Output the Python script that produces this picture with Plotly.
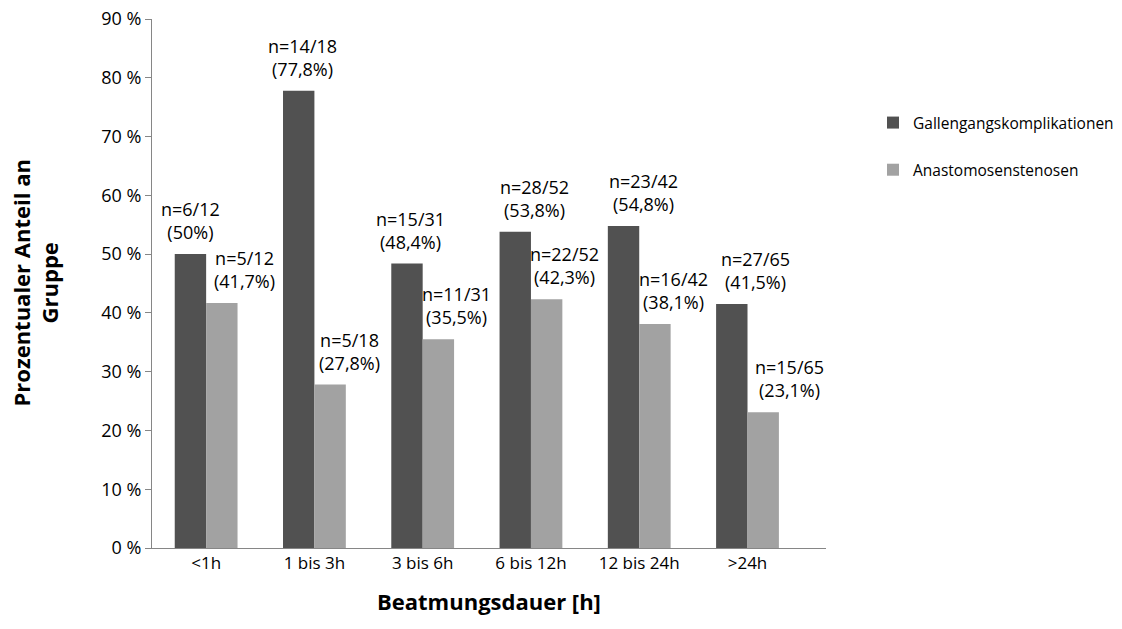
import plotly.graph_objects as go

categories = ["<1h", "1 bis 3h", "3 bis 6h", "6 bis 12h", "12 bis 24h", ">24h"]
galle_vals = [50.0, 77.8, 48.4, 53.8, 54.8, 41.5]
anast_vals = [41.7, 27.8, 35.5, 42.3, 38.1, 23.1]
galle_labels = ["n=6/12<br>(50%)", "n=14/18<br>(77,8%)", "n=15/31<br>(48,4%)",
                "n=28/52<br>(53,8%)", "n=23/42<br>(54,8%)", "n=27/65<br>(41,5%)"]
anast_labels = ["n=5/12<br>(41,7%)", "n=5/18<br>(27,8%)", "n=11/31<br>(35,5%)",
                "n=22/52<br>(42,3%)", "n=16/42<br>(38,1%)", "n=15/65<br>(23,1%)"]
series_names = ["Gallengangskomplikationen", "Anastomosenstenosen"]

# label pixel offsets (style only)
galle_dx = [-16, -12, -12, 4, 4, 8]
anast_dx = [38, 35, 34, 34, 34, 42]

FONT = "Open Sans"
DARK = "#515151"
LIGHT = "#a2a2a2"

fig = go.Figure()
fig.add_trace(go.Bar(x=categories, y=galle_vals, name=series_names[0],
                     marker=dict(color=DARK, line=dict(width=0)), legendgroup="a"))
fig.add_trace(go.Bar(x=categories, y=anast_vals, name=series_names[1],
                     marker=dict(color=LIGHT, line=dict(width=0)), legendgroup="b"))

for c, v, t, dx in zip(categories, galle_vals, galle_labels, galle_dx):
    fig.add_annotation(x=c, y=v, text=t, showarrow=False, xshift=dx, yshift=8,
                       yanchor="bottom", font=dict(size=18, color="#000", family=FONT))
for c, v, t, dx in zip(categories, anast_vals, anast_labels, anast_dx):
    fig.add_annotation(x=c, y=v, text=t, showarrow=False, xshift=dx, yshift=8,
                       yanchor="bottom", font=dict(size=18, color="#000", family=FONT))

# axis titles
fig.add_annotation(xref="paper", yref="paper", x=(35 - 152) / 674, y=0.5,
                   text="<b>Prozentualer Anteil an<br>Gruppe</b>", textangle=-90,
                   showarrow=False, xanchor="center", yanchor="middle",
                   font=dict(size=22, color="#000", family=FONT))
fig.add_annotation(xref="paper", yref="paper", x=0.5, y=(548 - 601) / 529,
                   text="<b>Beatmungsdauer [h]</b>",
                   showarrow=False, xanchor="center", yanchor="middle",
                   font=dict(size=22, color="#000", family=FONT))

fig.update_layout(
    width=1122, height=629,
    margin=dict(l=152, r=296, t=19, b=81, autoexpand=False),
    paper_bgcolor="white", plot_bgcolor="white",
    barmode="group", bargap=0.42, bargroupgap=0,
    font=dict(family=FONT, color="#000"),
    showlegend=True,
    legend=dict(x=(873 - 152) / 674, y=(548 - 106) / 529, xanchor="left", yanchor="top",
                font=dict(size=15.5, family=FONT), tracegroupgap=24,
                traceorder="grouped", itemwidth=30),
    xaxis=dict(showline=True, linecolor="#868686", linewidth=1, ticks="",
               tickfont=dict(size=17), showgrid=False),
    yaxis=dict(range=[0, 90], dtick=10, ticksuffix=" %", showline=True,
               linecolor="#868686", linewidth=1, ticks="outside", ticklen=6,
               tickcolor="#868686", tickfont=dict(size=18), showgrid=False,
               zeroline=False),
)

fig.write_html("out.html")
